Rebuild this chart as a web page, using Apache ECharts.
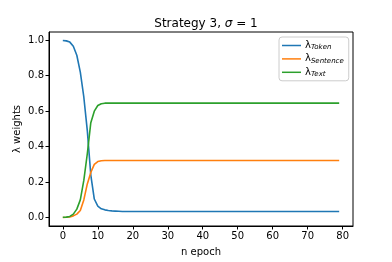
<!DOCTYPE html>
<html>
<head>
<meta charset="utf-8">
<script src="https://cdn.jsdelivr.net/npm/echarts@6/dist/echarts.min.js"></script>
<style>html,body{margin:0;padding:0;background:#fff}#c{width:392px;height:262px}</style>
</head>
<body>
<div id="c"></div>
<script>
const epochs = [0,1,2,3,4,5,6,7,8,9,10,11,12,13,14,15,16,17,18,19,20,21,22,23,24,25,26,27,28,29,30,31,32,33,34,35,36,37,38,39,40,41,42,43,44,45,46,47,48,49,50,51,52,53,54,55,56,57,58,59,60,61,62,63,64,65,66,67,68,69,70,71,72,73,74,75,76,77,78,79];
const tokenW = [0.998,0.996,0.989,0.966,0.915,0.82,0.68,0.49,0.24,0.105,0.065,0.050,0.044,0.040,0.038,0.037,0.036,0.035,0.035,0.035,0.035,0.035,0.035,0.035,0.035,0.035,0.035,0.035,0.035,0.035,0.035,0.035,0.035,0.035,0.035,0.035,0.035,0.035,0.035,0.035,0.035,0.035,0.035,0.035,0.035,0.035,0.035,0.035,0.035,0.035,0.035,0.035,0.035,0.035,0.035,0.035,0.035,0.035,0.035,0.035,0.035,0.035,0.035,0.035,0.035,0.035,0.035,0.035,0.035,0.035,0.035,0.035,0.035,0.035,0.035,0.035,0.035,0.035,0.035,0.035];
const sentenceW = [0.001,0.002,0.004,0.010,0.020,0.040,0.100,0.190,0.255,0.300,0.316,0.321,0.322,0.322,0.322,0.322,0.322,0.322,0.322,0.322,0.322,0.322,0.322,0.322,0.322,0.322,0.322,0.322,0.322,0.322,0.322,0.322,0.322,0.322,0.322,0.322,0.322,0.322,0.322,0.322,0.322,0.322,0.322,0.322,0.322,0.322,0.322,0.322,0.322,0.322,0.322,0.322,0.322,0.322,0.322,0.322,0.322,0.322,0.322,0.322,0.322,0.322,0.322,0.322,0.322,0.322,0.322,0.322,0.322,0.322,0.322,0.322,0.322,0.322,0.322,0.322,0.322,0.322,0.322,0.322];
const textW = [0.002,0.003,0.007,0.020,0.048,0.100,0.210,0.360,0.535,0.600,0.632,0.642,0.645,0.645,0.645,0.645,0.645,0.645,0.645,0.645,0.645,0.645,0.645,0.645,0.645,0.645,0.645,0.645,0.645,0.645,0.645,0.645,0.645,0.645,0.645,0.645,0.645,0.645,0.645,0.645,0.645,0.645,0.645,0.645,0.645,0.645,0.645,0.645,0.645,0.645,0.645,0.645,0.645,0.645,0.645,0.645,0.645,0.645,0.645,0.645,0.645,0.645,0.645,0.645,0.645,0.645,0.645,0.645,0.645,0.645,0.645,0.645,0.645,0.645,0.645,0.645,0.645,0.645,0.645,0.645];
const seriesNames = ['Token','Sentence','Text'];
const xTicks = [0,10,20,30,40,50,60,70,80];
const yTicks = [0,0.2,0.4,0.6,0.8,1.0];
const colors = ['#1f77b4','#ff7f0e','#2ca02c'];

const F = 'DejaVu Sans';
const chart = echarts.init(document.getElementById('c'), null, {renderer:'canvas'});
const values = [tokenW, sentenceW, textW];
const series = seriesNames.map((n,i)=>({
  name: n, type:'line', showSymbol:false, symbol:'none',
  data: epochs.map((e,j)=>[e, values[i][j]]),
  lineStyle:{color:colors[i], width:1.6}, itemStyle:{color:colors[i]},
  animation:false, z: 2+i
}));
chart.setOption({
  animation:false,
  title:{
    text:'{n|Strategy 3, }{i|σ}{n| = 1}',
    left:201, top:13, textAlign:'center',
    textStyle:{fontWeight:'normal', rich:{n:{fontFamily:F,fontSize:12,fontWeight:'normal',color:'#000'},i:{fontFamily:F,fontSize:12,fontWeight:'normal',fontStyle:'italic',color:'#000'}}}
  },
  grid:{left:49, right:39, top:32, bottom:33, show:true, borderColor:'#000', borderWidth:1, backgroundColor:'#fff'},
  legend:{
    orient:'vertical', left:279, top:37, padding:[3,5,3,3], itemGap:2.4,
    itemWidth:19, itemHeight:1.5, icon:'rect',
    borderColor:'#ccc', borderWidth:1, borderRadius:3, backgroundColor:'rgba(255,255,255,0.8)',
    data: seriesNames.map((n,i)=>({name:n, itemStyle:{color:colors[i]}})),
    formatter: n => '{l|λ}{s|' + n + '}',
    textStyle:{padding:[0,0,0,-1], rich:{
      l:{fontFamily:F,fontSize:10,color:'#000',lineHeight:12},
      s:{fontFamily:F,fontSize:7,fontStyle:'italic',color:'#000',lineHeight:12,padding:[4,0,0,0]}
    }}
  },
  xAxis:{
    type:'value', min:-3.95, max:82.95,
    name:'n epoch', nameLocation:'middle', nameGap:21, nameMoveOverlap:false,
    nameTextStyle:{fontFamily:F,fontSize:10,color:'#000'},
    axisLine:{show:true, onZero:false, lineStyle:{color:'#000',width:1}},
    axisTick:{show:true, customValues:xTicks, length:3.5, lineStyle:{color:'#000'}},
    axisLabel:{customValues:xTicks, fontFamily:F, fontSize:10, color:'#000', margin:5},
    splitLine:{show:false}
  },
  yAxis:{
    type:'value', min:-0.047, max:1.046,
    name:'λ weights', nameLocation:'middle', nameGap:27, nameMoveOverlap:false,
    nameTextStyle:{fontFamily:F,fontSize:10,color:'#000'},
    axisLine:{show:true, onZero:false, lineStyle:{color:'#000',width:1}},
    axisTick:{show:true, customValues:yTicks, length:3.5, lineStyle:{color:'#000'}},
    axisLabel:{customValues:yTicks, fontFamily:F, fontSize:10, color:'#000', margin:5, formatter:v=>v.toFixed(1)},
    splitLine:{show:false}
  },
  series: series
});
</script>
</body>
</html>
